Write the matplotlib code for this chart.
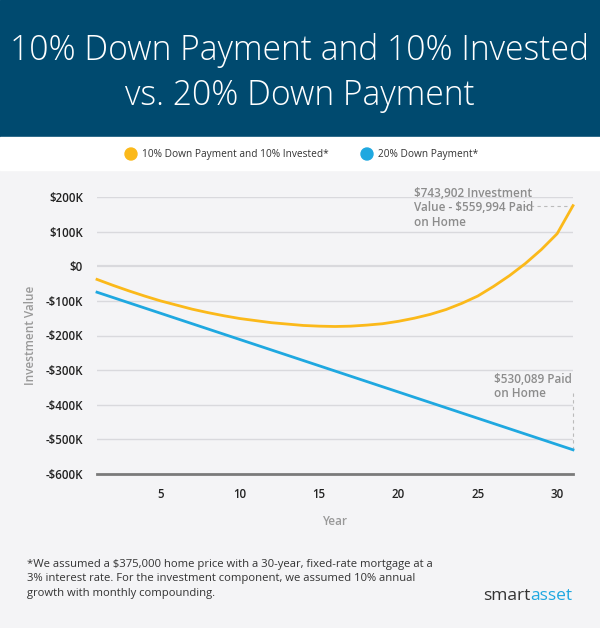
import numpy as np
import matplotlib
matplotlib.use('Agg')
import matplotlib.pyplot as plt

# Values in thousands of dollars.
years = list(range(1, 32))
invested = [-38, -55, -71, -86, -100, -112, -124, -134, -143, -151,
            -157, -163, -167, -171, -173, -174, -173, -170, -166, -159,
            -150, -139, -125, -107, -86, -58, -27, 8, 48, 94, 175]
down20 = [-75 - 15.17 * (y - 1) for y in years]

yticks = [200, 100, 0, -100, -200, -300, -400, -500, -600]
ytick_labels = ['$200K', '$100K', '$0', '-$100K', '-$200K', '-$300K',
                '-$400K', '-$500K', '-$600K']
xticks = [5, 10, 15, 20, 25, 30]

legend_labels = ['10% Down Payment and 10% Invested*', '20% Down Payment*']
title = '10% Down Payment and 10% Invested\nvs. 20% Down Payment'
note_top = '$743,902 Investment\nValue - $559,994 Paid\non Home'
note_bottom = '$530,089 Paid\non Home'
footnote = ('*We assumed a $375,000 home price with a 30-year, fixed-rate mortgage at a\n'
            '3% interest rate. For the investment component, we assumed 10% annual\n'
            'growth with monthly compounding.')

YELLOW = '#fbb91a'
BLUE = '#1fa8e0'
NAVY = '#004a6f'
BG = '#f4f4f6'
GRAY = '#8c8c8c'

plt.rcParams['font.family'] = ['Open Sans', 'DejaVu Sans']

W, H = 600, 628
fig = plt.figure(figsize=(W / 100, H / 100), dpi=100)
fig.patch.set_facecolor(BG)

# header band and white legend band
fig.patches.append(plt.Rectangle((0, 1 - 137 / H), 1, 137 / H, transform=fig.transFigure,
                                 color=NAVY, zorder=0))
fig.patches.append(plt.Rectangle((0, 1 - 170 / H), 1, 33 / H, transform=fig.transFigure,
                                 color='white', zorder=0))
fig.text(0.5, 1 - 73 / H, title, ha='center', va='center', color='white',
         fontsize=24.2, fontweight='light', linespacing=1.42)

# legend
for cx, tx, col, lab in [(131, 142, YELLOW, legend_labels[0]),
                         (367, 378, BLUE, legend_labels[1])]:
    fig.patches.append(matplotlib.patches.Ellipse((cx / W, 1 - 154 / H), 12 / W, 12 / H,
                                                  transform=fig.transFigure, color=col))
    fig.text(tx / W, 1 - 154 / H, lab, ha='left', va='center', fontsize=7.3, color='#333333')

ax = fig.add_axes([97 / W, 1 - 474 / H, 476 / W, 277 / H])
ax.set_facecolor(BG)
ax.set_xlim(1, 31)
ax.set_ylim(-600, 200)

for v in yticks:
    if v == -600:
        continue
    ax.axhline(v, color='#d9d9dd', lw=1.6 if v == 0 else 1, zorder=1)
ax.axhline(-600, color='#7a7a7a', lw=2, zorder=2, clip_on=False)

ax.plot(years, invested, color=YELLOW, lw=2, zorder=3, clip_on=False)
ax.plot(years, down20, color=BLUE, lw=2, zorder=3, clip_on=False)

for s in ax.spines.values():
    s.set_visible(False)
ax.set_yticks(yticks)
ax.set_yticklabels(ytick_labels, fontsize=8.3, fontweight='semibold', color='#222222')
ax.set_xticks(xticks)
ax.set_xticklabels([str(x) for x in xticks], fontsize=8.3, fontweight='semibold', color='#222222')
ax.tick_params(length=0, pad=10)
ax.tick_params(axis='x', pad=10)
ax.set_xlabel('Year', fontsize=8.5, color='#999999', fontweight='semibold', labelpad=10)
ax.set_ylabel('Investment Value', fontsize=8.5, color='#999999', fontweight='semibold',
              labelpad=6)

# annotations
ax.plot([27.5, 31], [invested[-1], invested[-1]], ls=(0, (3, 3)), color='#bbbbbb', lw=0.8,
        zorder=2, clip_on=False)
ax.text(21.0, 230, note_top, ha='left', va='top', fontsize=8.5, color=GRAY,
        fontweight='semibold', linespacing=1.15)
ax.plot([31, 31], [-367, down20[-1]], ls=(0, (3, 3)), color='#bbbbbb', lw=0.8,
        zorder=2, clip_on=False)
ax.text(26.0, -308, note_bottom, ha='left', va='top', fontsize=8.5, color=GRAY,
        fontweight='semibold', linespacing=1.15)

fig.text(27 / W, 1 - 579 / H, footnote, ha='left', va='center', fontsize=8.1,
         color='#333333', linespacing=1.45)

# logo text
t1 = fig.text(483 / W, 1 - 596 / H, 'smart', ha='left', va='center', fontsize=12.5,
              color='#333333')
fig.canvas.draw()
bb = t1.get_window_extent(fig.canvas.get_renderer())
fig.text(bb.x1 / W, 1 - 596 / H, 'asset', ha='left', va='center', fontsize=12.5, color=BLUE)

fig.savefig('out.png', dpi=100, facecolor=BG)
